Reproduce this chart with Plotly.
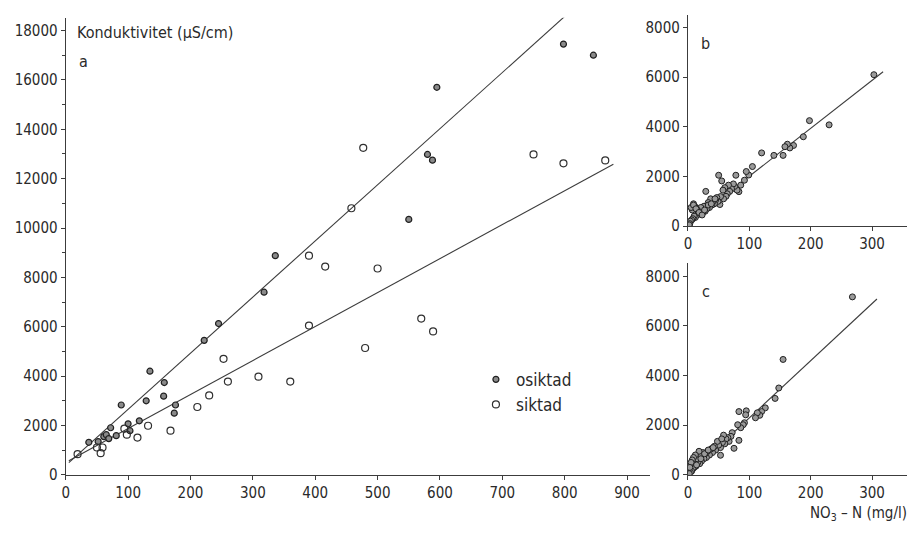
import plotly.graph_objects as go

# ---------------- data: panel a ----------------
osiktad_x = [37, 52, 61, 65, 69, 72, 81, 89, 100, 103, 118, 129, 135, 157, 158, 174, 176,
             222, 245, 318, 336, 550, 580, 588, 595, 798, 846]
osiktad_y = [1320, 1350, 1550, 1630, 1470, 1910, 1590, 2830, 2070, 1790, 2190, 3000, 4200,
             3190, 3740, 2500, 2830, 5450, 6130, 7400, 8880, 10350, 12980, 12750, 15700,
             17450, 17000]
siktad_x = [19, 50, 56, 59, 94, 98, 115, 132, 168, 211, 230, 253, 260, 309, 360, 390, 390,
            416, 458, 477, 480, 500, 570, 589, 750, 798, 865]
siktad_y = [840, 1110, 880, 1110, 1870, 1630, 1510, 1990, 1790, 2750, 3220, 4700, 3780,
            3980, 3780, 6050, 8880, 8440, 10800, 13250, 5140, 8360, 6330, 5810, 12980,
            12620, 12740]
# regression lines (intercept, slope, x-start, x-end)
line_os = (381, 22.74, 5, 801)
line_s = (504, 13.76, 5, 878)

main_x_ticks = [0, 100, 200, 300, 400, 500, 600, 700, 800, 900]
main_y_ticks = [0, 2000, 4000, 6000, 8000, 10000, 12000, 14000, 16000, 18000]

# ---------------- data: panel b ----------------
b_x = [303, 230, 198, 188, 172, 166, 162, 158, 155, 140, 120, 105, 99, 95, 92, 86, 83, 80,
       78, 76, 74, 71, 68, 66, 64, 62, 60, 58, 57, 55, 53, 52, 50, 49, 47, 45, 43, 41, 39,
       37, 35, 33, 31, 29, 28, 26, 24, 22, 21, 19, 17, 15, 14, 12, 11, 10, 9, 8, 7, 6, 5,
       4, 3, 2, 9, 13, 18, 23, 27, 33, 38, 44]
b_y = [6100, 4080, 4250, 3600, 3250, 3150, 3300, 3200, 2850, 2850, 2950, 2400, 2060, 2200,
       1850, 1650, 1390, 1450, 2050, 1600, 1700, 1500, 1400, 1650, 1300, 1200, 1550, 1100,
       1450, 1820, 1190, 870, 2050, 1000, 1150, 1050, 900, 1000, 850, 1100, 750, 950, 700,
       1400, 600, 800, 550, 650, 750, 500, 600, 450, 700, 350, 800, 400, 900, 300, 650,
       250, 750, 200, 100, 50, 850, 700, 550, 450, 650, 850, 900, 1100]
line_b = (80, 19.3, 2, 318)

# ---------------- data: panel c ----------------
c_x = [268, 155, 148, 142, 126, 120, 117, 113, 110, 95, 94, 92, 90, 86, 83, 81, 83, 75,
       72, 70, 67, 65, 62, 60, 58, 56, 53, 50, 48, 45, 43, 40, 38, 35, 32, 30, 28, 26, 24,
       22, 20, 19, 18, 16, 15, 13, 12, 10, 9, 8, 7, 6, 5, 4, 3, 2, 14, 21, 27, 33, 41, 55,
       53]
c_y = [7170, 4650, 3500, 3080, 2700, 2550, 2400, 2500, 2300, 2580, 2420, 2100, 2020, 1900,
       2550, 2020, 1390, 1070, 1700, 1550, 1350, 1500, 1450, 1250, 1600, 1300, 1100, 1200,
       1350, 1000, 1150, 900, 1050, 800, 950, 700, 850, 650, 900, 550, 750, 450, 950, 500,
       650, 350, 800, 300, 700, 250, 600, 150, 500, 100, 300, 50, 400, 650, 850, 1000,
       1100, 1450, 790]
line_c = (0, 23.0, 2, 308)

sub_x_ticks = [0, 100, 200, 300]
sub_y_ticks = [0, 2000, 4000, 6000, 8000]

# ---------------- styles ----------------
FONT = "DejaVu Sans Condensed, Liberation Sans Narrow, Roboto, sans-serif"
INK = "#2a2a2a"
LINE = "#3c3c3c"

fig = go.Figure()


def add_line(params, xa, ya):
    a, b, x0, x1 = params
    fig.add_trace(go.Scatter(x=[x0, x1], y=[a + b * x0, a + b * x1], mode="lines",
                             line=dict(color=LINE, width=1.1), xaxis=xa, yaxis=ya,
                             showlegend=False, hoverinfo="skip"))


filled_marker = dict(symbol="circle", size=6, color="#8a8a8a",
                     line=dict(color="#202020", width=1.2))
open_marker = dict(symbol="circle-open", size=7, color="#303030",
                   line=dict(color="#303030", width=1.2))

add_line(line_os, "x", "y")
add_line(line_s, "x", "y")
fig.add_trace(go.Scatter(x=osiktad_x, y=osiktad_y, mode="markers", name="osiktad",
                         marker=filled_marker, xaxis="x", yaxis="y"))
fig.add_trace(go.Scatter(x=siktad_x, y=siktad_y, mode="markers", name="siktad",
                         marker=open_marker, xaxis="x", yaxis="y"))

small_marker = dict(symbol="circle", size=6, color="#9a9a9a",
                    line=dict(color="#202020", width=1))
add_line(line_b, "x2", "y2")
fig.add_trace(go.Scatter(x=b_x, y=b_y, mode="markers", marker=small_marker,
                         xaxis="x2", yaxis="y2", showlegend=False))
add_line(line_c, "x3", "y3")
fig.add_trace(go.Scatter(x=c_x, y=c_y, mode="markers", marker=small_marker,
                         xaxis="x3", yaxis="y3", showlegend=False))

W, H = 912, 535


def px_x(p):
    return p / W


def px_y(p):
    return 1 - p / H


axis_common = dict(showgrid=False, zeroline=False, showline=True, linecolor=LINE,
                   linewidth=1.3, ticks="outside", ticklen=4, tickwidth=1,
                   tickcolor=LINE, tickfont=dict(family=FONT, size=15, color=INK),
                   fixedrange=True)


def labels(vals):
    return [str(v) for v in vals]


fig.update_layout(
    width=W, height=H,
    margin=dict(l=0, r=0, t=0, b=0),
    paper_bgcolor="white", plot_bgcolor="white",
    font=dict(family=FONT, color=INK),
    xaxis=dict(axis_common, domain=[px_x(62), px_x(649)], range=[0, 937],
               tickvals=main_x_ticks, ticktext=labels(main_x_ticks), anchor="y"),
    yaxis=dict(axis_common, domain=[px_y(483), px_y(18)], range=[0, 18520],
               tickvals=main_y_ticks, ticktext=labels(main_y_ticks), anchor="x",
               minor=dict(ticks="outside", ticklen=3, dtick=1000, tickcolor=LINE)),
    xaxis2=dict(axis_common, domain=[px_x(687), px_x(907)], range=[0, 357],
                tickvals=sub_x_ticks, ticktext=labels(sub_x_ticks), anchor="y2"),
    yaxis2=dict(axis_common, domain=[px_y(230), px_y(15)], range=[0, 8515],
                tickvals=sub_y_ticks, ticktext=labels(sub_y_ticks), anchor="x2"),
    xaxis3=dict(axis_common, domain=[px_x(687), px_x(907)], range=[0, 357],
                tickvals=sub_x_ticks, ticktext=labels(sub_x_ticks), anchor="y3"),
    yaxis3=dict(axis_common, domain=[px_y(483), px_y(268)], range=[0, 8515],
                tickvals=sub_y_ticks, ticktext=labels(sub_y_ticks), anchor="x3"),
    legend=dict(x=px_x(474), y=px_y(368), xanchor="left", yanchor="top",
                bgcolor="rgba(0,0,0,0)", font=dict(family=FONT, size=17, color=INK),
                itemsizing="trace", tracegroupgap=2),
    annotations=[
        dict(text="Konduktivitet (µS/cm)", x=px_x(71), y=px_y(33), xref="paper",
             yref="paper", xanchor="left", yanchor="middle", showarrow=False,
             font=dict(family=FONT, size=16, color=INK)),
        dict(text="a", x=px_x(73), y=px_y(63), xref="paper", yref="paper",
             xanchor="left", yanchor="middle", showarrow=False,
             font=dict(family=FONT, size=16, color=INK)),
        dict(text="b", x=px_x(698), y=px_y(44), xref="paper", yref="paper",
             xanchor="left", yanchor="middle", showarrow=False,
             font=dict(family=FONT, size=16, color=INK)),
        dict(text="c", x=px_x(699), y=px_y(296), xref="paper", yref="paper",
             xanchor="left", yanchor="middle", showarrow=False,
             font=dict(family=FONT, size=16, color=INK)),
        dict(text="NO<sub>3</sub> – N (mg/l)", x=px_x(909), y=px_y(534), xref="paper",
             yref="paper", xanchor="right", yanchor="bottom", showarrow=False,
             font=dict(family=FONT, size=15, color=INK)),
    ],
)

fig.write_html("out.html")
